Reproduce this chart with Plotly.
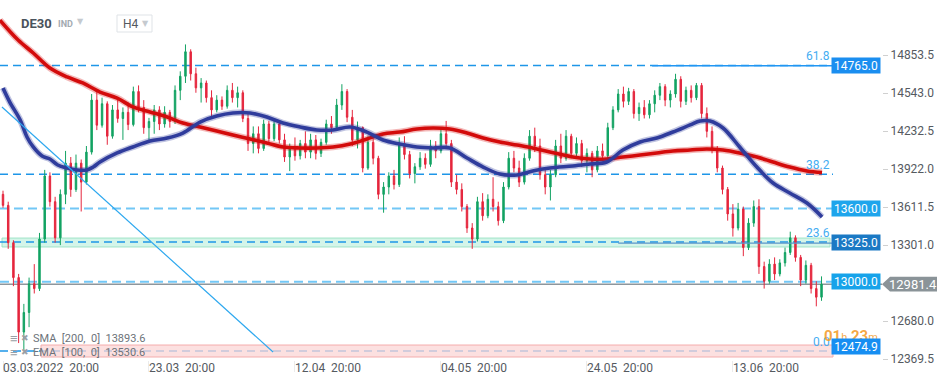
import plotly.graph_objects as go

# ---------------- data ----------------
bar_index = list(range(158))

opens = [13715,13625,13320,13035,12590,12750,12985,12945,13350,13865,
13655,13360,13715,13970,13755,13970,13815,14060,14485,14280,
14455,14190,14405,14335,14385,14285,14555,14425,14260,14310,
14405,14290,14385,14310,14565,14680,14880,14700,14585,14625,
14505,14405,14485,14435,14565,14505,14545,14335,14130,14210,
14090,14290,14170,14290,14160,14020,14090,14030,14130,14060,
14160,14050,14140,14290,14260,14445,14555,14345,14160,14260,
13930,14140,14010,13715,13775,13865,13795,14130,14040,13885,
13940,14010,13960,14110,14070,14210,14130,13815,13755,13615,
13440,13350,13655,13540,13675,13615,13500,13775,14010,13930,
13815,14010,14190,14110,13875,13775,13875,14110,14010,14190,
14050,14130,13990,14050,13915,14070,14030,14260,14405,14535,
14475,14555,14375,14425,14365,14455,14525,14595,14485,14535,
14655,14475,14565,14505,14605,14375,14230,14090,13930,13755,
13555,13440,13595,13280,13480,13615,13125,13005,13145,13065,
13155,13240,13360,13200,13015,13135,12945,12875]

highs = [13745,13655,13340,13065,12820,13035,13145,13400,13915,13895,
13695,13755,14070,14020,14040,14000,14110,14535,14565,14505,
14475,14445,14505,14425,14465,14595,14605,14485,14340,14445,
14435,14435,14405,14605,14720,14940,14900,14750,14665,14645,
14565,14525,14515,14605,14625,14595,14565,14385,14270,14270,
14325,14315,14325,14310,14210,14130,14180,14160,14230,14210,
14200,14170,14325,14355,14495,14615,14575,14405,14310,14270,
14190,14170,14030,13815,13895,13915,14180,14190,14070,13970,
14060,14050,14160,14150,14250,14315,14160,13875,13805,13635,
13480,13695,13725,13715,13855,13655,13815,14060,14070,13990,
14050,14240,14260,14170,13935,13915,14160,14210,14240,14210,
14180,14160,14090,14070,14110,14130,14300,14435,14575,14595,
14585,14575,14465,14485,14485,14565,14625,14615,14565,14700,
14680,14595,14605,14625,14625,14425,14270,14110,13950,13775,
13635,13645,13615,13520,13665,13675,13165,13185,13200,13185,
13280,13410,13380,13220,13175,13155,13005,13045]

lows = [13605,13270,12965,12500,12435,12630,12905,12925,13320,13615,
13320,13300,13635,13695,13735,13575,13795,14040,14240,14260,
14120,14170,14300,14160,14240,14270,14385,14210,14160,14210,
14240,14260,14260,14290,14485,14625,14645,14545,14465,14465,
14355,14385,14405,14415,14465,14425,14305,14070,14050,14050,
14070,14130,14150,14130,13980,13905,13990,14000,14010,14010,
14000,14020,14120,14210,14240,14405,14305,14110,14090,13895,
13915,13960,13675,13565,13715,13755,13775,14000,13845,13805,
13915,13925,13940,14010,14050,14090,13775,13715,13575,13400,
13270,13330,13500,13520,13575,13460,13480,13755,13895,13775,
13795,13990,14060,13835,13715,13665,13855,13970,13990,14010,
14010,13940,13895,13855,13895,13990,14010,14240,14385,14425,
14445,14335,14315,14335,14335,14385,14485,14435,14425,14505,
14425,14445,14465,14485,14335,14180,14050,13895,13715,13500,
13370,13420,13210,13260,13450,13065,12945,12985,13015,13045,
13125,13220,13165,12965,12985,12905,12800,12845]

closes = [13625,13320,13035,12590,12750,12985,12945,13350,13865,13655,
13360,13715,13970,13755,13970,13815,14060,14485,14280,14455,
14190,14405,14335,14385,14285,14555,14425,14260,14310,14405,
14290,14385,14310,14565,14680,14880,14700,14585,14625,14505,
14405,14485,14435,14565,14505,14545,14335,14130,14210,14090,
14290,14170,14290,14160,14020,14090,14030,14130,14060,14160,
14050,14140,14290,14260,14445,14555,14345,14160,14260,13930,
14140,14010,13715,13775,13865,13795,14130,14040,13885,13940,
14010,13960,14110,14070,14210,14130,13815,13755,13615,13440,
13350,13655,13540,13675,13615,13500,13775,14010,13930,13815,
14010,14190,14110,13875,13775,13875,14110,14010,14190,14050,
14130,13990,14050,13915,14070,14030,14260,14405,14535,14475,
14555,14375,14425,14365,14455,14525,14595,14485,14535,14655,
14475,14565,14505,14605,14375,14230,14090,13930,13755,13555,
13440,13595,13280,13480,13615,13125,13005,13145,13065,13155,
13240,13360,13200,13015,13135,12945,12875,12981.4]

# SMA [200] (red)
sma_x = [-0.6,2.9,5.8,9.0,12.3,15.3,18.6,21.9,24.9,28.2,31.5,34.5,37.8,41.0,44.1,
         47.4,50.6,53.7,57.0,60.2,63.3,66.6,69.8,72.9,76.1,79.4,82.5,85.7,89.0,92.1,
         95.3,98.6,101.6,104.9,109.3,112.6,115.8,118.9,122.2,125.4,128.5,131.8,135.0,
         138.1,141.3,144.6,147.7,150.9,154.2,157.1]
sma_v = [15139,14976,14870,14747,14674,14625,14551,14502,14429,14388,14347,14298,14265,
         14233,14200,14167,14135,14102,14094,14094,14102,14126,14167,14208,14224,14249,
         14257,14249,14216,14175,14143,14118,14094,14061,14020,14004,14004,14020,14036,
         14053,14069,14077,14086,14077,14053,14020,13979,13938,13906,13893.6]

# EMA [100] (blue)
ema_x = [0,1.3,3.3,4.6,5.8,7.5,9.0,10.5,12.3,14.2,16.1,17.3,18.6,21.9,24.9,28.2,31.5,
         34.5,37.8,41.0,44.1,47.4,50.6,53.7,57.0,60.2,63.3,66.6,69.8,72.9,76.1,79.4,
         82.5,85.7,89.0,92.1,95.3,98.6,101.6,104.9,109.3,112.6,115.8,118.9,122.2,125.4,
         128.5,131.8,133.7,135.6,138.1,141.3,144.6,147.7,150.9,154.2,157.1]
ema_v = [14584,14469,14322,14184,14102,14028,14004,13955,13930,13914,13914,13938,13979,
         14053,14102,14151,14175,14216,14306,14355,14380,14380,14347,14298,14265,14241,
         14241,14265,14224,14159,14126,14102,14094,14094,14012,13938,13881,13873,13906,
         13930,13947,13963,13979,14077,14143,14175,14224,14282,14314,14314,14257,14102,
         13938,13808,13726,13644,13530.6]

sma_label = "SMA\u00a0\u00a0[200,\u00a0\u00a00]\u00a0\u00a013893.6"
ema_label = "EMA\u00a0\u00a0[100,\u00a0\u00a00]\u00a0\u00a013530.6"

tick_bars = [0, 28, 56, 84, 112, 140]
tick_labels = ["03.03.2022\u00a0\u00a020:00", "23.03\u00a0\u00a020:00", "12.04\u00a0\u00a020:00",
               "04.05\u00a0\u00a020:00", "24.05\u00a0\u00a020:00", "13.06\u00a0\u00a020:00"]
y_tick_vals = [14853.5, 14543.0, 14232.5, 13922.0, 13611.5, 13301.0, 12680.0, 12369.5]

fib_levels = [14768, 13880, 13325, 12435]
fib_names = ["61.8", "38.2", "23.6", "0.0"]
price_lines = [13600.0, 13000.0]
label_levels = [14765.0, 13600.0, 13325.0, 13000.0, 12474.9]
label_colors = ["#1a8ef0", "#1ea5ec", "#1b79c4", "#17a3ea", "#168ef2"]
last_price = 12981.4
zone_green = [13285, 13358]
zone_red = [12386, 12484]
trend_x = [-0.2, 51.8]
trend_y = [14429, 12427]
level_14765_start = 124.5
level_13325_start = 118.0
right_end_bar = 159.2
countdown = "<b>01</b><span style='font-size:11px'>h</span> <b>23</b><span style='font-size:11px'>m</span>"

# ---------------- geometry helpers (layout only) ----------------
PW, PH = 882.0, 360.0
def px(xp):
    return xp / PW
def py(yp):
    return 1 - yp / PH

FONT = "Roboto, 'Open Sans', sans-serif"

fig = go.Figure()

fig.add_trace(go.Candlestick(
    x=bar_index, open=opens, high=highs, low=lows, close=closes,
    increasing=dict(line=dict(color="#13a363", width=1), fillcolor="#13a363"),
    decreasing=dict(line=dict(color="#e5263d", width=1), fillcolor="#e5263d"),
    whiskerwidth=0, showlegend=False, hoverinfo="none"))

for xs, vs, col, halo in [(sma_x, sma_v, "#d30b0b", "rgba(215,20,20,0.30)"),
                          (ema_x, ema_v, "#2f3c9c", "rgba(47,60,156,0.30)")]:
    fig.add_trace(go.Scatter(x=xs, y=vs, mode="lines", line=dict(color=halo, width=6.5, shape="spline"),
                             showlegend=False, hoverinfo="skip"))
    fig.add_trace(go.Scatter(x=xs, y=vs, mode="lines", line=dict(color=col, width=3.6, shape="spline"),
                             showlegend=False, hoverinfo="skip"))

shapes = []
# zones
shapes.append(dict(type="rect", xref="paper", yref="y", x0=px(2), x1=px(830),
                   y0=zone_green[0], y1=zone_green[1], fillcolor="#d4f5e9",
                   line=dict(color="#9fe3c7", width=1), layer="below"))
shapes.append(dict(type="rect", xref="paper", yref="y", x0=px(41), x1=px(833),
                   y0=zone_red[0], y1=zone_red[1], fillcolor="rgba(251,214,214,0.75)",
                   line=dict(color="#f4adad", width=1), layer="above"))
# fib dashed lines
for lv in fib_levels:
    shapes.append(dict(type="line", xref="paper", yref="y", x0=0, x1=px(833), y0=lv, y1=lv,
                       line=dict(color="#1e96e8", width=1.5, dash="8px,5px"), layer="below"))
# light dashed price lines
for lv in price_lines:
    shapes.append(dict(type="line", xref="paper", yref="y", x0=0, x1=px(833), y0=lv, y1=lv,
                       line=dict(color="#72c7f6", width=2, dash="9px,5px"), layer="below"))
# solid partial level lines
shapes.append(dict(type="line", xref="x", yref="y", x0=level_14765_start, x1=right_end_bar,
                   y0=label_levels[0], y1=label_levels[0], line=dict(color="#2196f3", width=1.5)))
shapes.append(dict(type="line", xref="x", yref="y", x0=level_13325_start, x1=right_end_bar,
                   y0=label_levels[2] - 8, y1=label_levels[2] - 8, line=dict(color="#5b95c8", width=1.3)))
# current price line
shapes.append(dict(type="line", xref="paper", yref="y", x0=0, x1=1, y0=last_price, y1=last_price,
                   line=dict(color="#8d969c", width=1.5), layer="below"))
# trend line
shapes.append(dict(type="line", xref="x", yref="y", x0=trend_x[0], x1=trend_x[1],
                   y0=trend_y[0], y1=trend_y[1], line=dict(color="#2ea8ef", width=1.2), layer="above"))
# current price tag (arrow box)
hh = 61
shapes.append(dict(type="path", xref="paper", yref="y",
                   path=f"M 1.0 {last_price} L {px(890)} {last_price+hh} L {px(937)} {last_price+hh} "
                        f"L {px(937)} {last_price-hh} L {px(890)} {last_price-hh} Z",
                   fillcolor="#8a9398", line=dict(width=0), layer="above"))
# H4 selector box
shapes.append(dict(type="rect", xref="paper", yref="paper", x0=px(117), x1=px(152),
                   y0=py(32), y1=py(15), fillcolor="white", line=dict(color="#dfe3e7", width=1),
                   layer="above"))

ann = []
# x tick labels
for b, t in zip(tick_bars, tick_labels):
    ann.append(dict(x=b, y=py(368), xref="x", yref="paper", text=t, showarrow=False,
                    xanchor="left", yanchor="middle", xshift=-2,
                    font=dict(family=FONT, size=12, color="#555a5f")))
# fib labels
for lv, nm in zip(fib_levels, fib_names):
    ann.append(dict(x=px(832), y=lv, xref="paper", yref="y", text=nm, showarrow=False,
                    xanchor="right", yanchor="middle", yshift=9,
                    font=dict(family=FONT, size=12, color="#45adf2")))
# countdown (partly behind the price box, as in the source)
ann.append(dict(x=px(851), y=py(336), xref="paper", yref="paper", text=countdown, showarrow=False,
                xanchor="center", yanchor="middle",
                font=dict(family=FONT, size=15, color="rgba(242,152,30,0.85)")))
# price boxes
for lv, col in zip(label_levels, label_colors):
    ann.append(dict(x=px(881), y=lv, xref="paper", yref="y", text=f"{lv:.1f}", showarrow=False,
                    xanchor="right", yanchor="middle", bgcolor=col, width=46, height=13,
                    borderpad=1, font=dict(family=FONT, size=12, color="white")))
# current price text
ann.append(dict(x=px(913), y=last_price, xref="paper", yref="y", text=f"{last_price:.1f}",
                showarrow=False, xanchor="center", yanchor="middle",
                font=dict(family=FONT, size=13, color="white")))
# indicator legend
for yy, txt in [(338, sma_label), (352, ema_label)]:
    ann.append(dict(x=px(8), y=py(yy), xref="paper", yref="paper", text="≡", showarrow=False,
                    xanchor="left", yanchor="middle", font=dict(family=FONT, size=13, color="#9aa0a6")))
    ann.append(dict(x=px(19), y=py(yy), xref="paper", yref="paper", text="✖", showarrow=False,
                    xanchor="left", yanchor="middle", font=dict(family="DejaVu Sans", size=9, color="#9aa0a6")))
    ann.append(dict(x=px(31), y=py(yy), xref="paper", yref="paper", text=txt, showarrow=False,
                    xanchor="left", yanchor="middle", font=dict(family=FONT, size=11, color="#6d737a")))
# header
ann.append(dict(x=px(19), y=py(23), xref="paper", yref="paper", text="<b>DE30</b>", showarrow=False,
                xanchor="left", yanchor="middle", font=dict(family=FONT, size=13, color="#4a535c")))
ann.append(dict(x=px(56), y=py(24), xref="paper", yref="paper", text="<b>IND</b>", showarrow=False,
                xanchor="left", yanchor="middle", font=dict(family=FONT, size=9, color="#a3aab1")))
ann.append(dict(x=px(75), y=py(21), xref="paper", yref="paper", text="▼", showarrow=False,
                xanchor="left", yanchor="middle", font=dict(family="DejaVu Sans", size=8, color="#c5cacf")))
ann.append(dict(x=px(121), y=py(24), xref="paper", yref="paper", text="H4", showarrow=False,
                xanchor="left", yanchor="middle", font=dict(family=FONT, size=12, color="#555a5f")))
ann.append(dict(x=px(140), y=py(24), xref="paper", yref="paper", text="▼", showarrow=False,
                xanchor="left", yanchor="middle", font=dict(family="DejaVu Sans", size=8, color="#c5cacf")))

fig.update_layout(
    width=949, height=385,
    margin=dict(l=0, r=67, t=0, b=25, autoexpand=False),
    paper_bgcolor="white", plot_bgcolor="white",
    showlegend=False, boxgap=0.6,
    font=dict(family=FONT, size=12, color="#555a5f"),
    xaxis=dict(range=[-0.575, 168.6], showgrid=False, zeroline=False, showline=False,
               rangeslider=dict(visible=False), tickvals=tick_bars, ticks="outside",
               ticklen=11, tickcolor="#ebebeb", showticklabels=False),
    yaxis=dict(side="right", range=[12361.6, 15302.9], tickvals=y_tick_vals,
               ticktext=[f"{v:.1f}" for v in y_tick_vals], ticks="outside", ticklen=5,
               tickcolor="#d0d0d0", showgrid=False, zeroline=False, showline=False,
               tickfont=dict(family=FONT, size=12, color="#555a5f")),
    shapes=shapes, annotations=ann,
)

fig.write_html("out.html", config={"displayModeBar": False},
               post_script="document.body.style.margin='0';document.body.style.overflow='hidden';")
